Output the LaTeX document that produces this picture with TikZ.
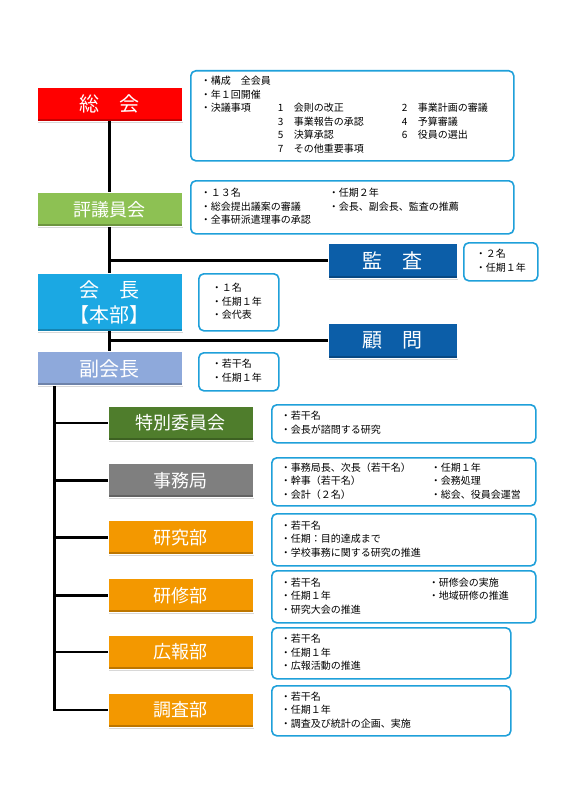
\documentclass[tikz,border=0pt]{standalone}
\usepackage{fontspec}
\setmainfont{Noto Sans CJK JP}
\usetikzlibrary{shadows}

\definecolor{infoblue}{HTML}{1FA0DA}
\definecolor{sokaired}{HTML}{FF0000}
\definecolor{hyogigreen}{HTML}{8DC153}
\definecolor{kaichoblue}{HTML}{1BA8E3}
\definecolor{fukublue}{HTML}{8EA9DB}
\definecolor{navyblue}{HTML}{0C5EA8}
\definecolor{tokugreen}{HTML}{4F7D2C}
\definecolor{jimugray}{HTML}{7F7F7F}
\definecolor{buorange}{HTML}{F39800}

\newcommand{\infofont}{\fontsize{10}{13.5}\selectfont}

\begin{document}
\begin{tikzpicture}[
		x=1pt, y=-1pt,
		conn/.style={line width=2.5pt},
		unit/.style={
			draw=white,
			line width=0.8pt,
			minimum width=145pt,
			minimum height=34pt,
			inner sep=0pt,
			align=center,
			text=white,
			drop shadow={shadow xshift=1pt, shadow yshift=-1.5pt, opacity=0.3},
			path picture={\fill[black, opacity=0.22] (path picture bounding box.south west) rectangle ([yshift=2.5pt]path picture bounding box.south east);}
		},
		big/.style={font=\fontsize{20}{25}\selectfont},
		mid/.style={font=\fontsize{18}{22}\selectfont},
		side/.style={minimum width=129pt, minimum height=35pt, fill=navyblue},
		info/.style={
			draw=infoblue,
			line width=1.6pt,
			rounded corners=5pt,
			fill=white,
			anchor=north west,
			inner xsep=10pt,
			inner ysep=0pt,
			align=left,
			font=\infofont
		}
		]
		
		\path[fill=white] (0,0) rectangle (566,800);
		\useasboundingbox (0,0) rectangle (566,800);
		
		% Main line
		\node[unit, big, fill=sokaired] (sokai) at (109.5,104) {総　会};
		\node[unit, mid, fill=hyogigreen] (hyogi) at (109.5,209.5) {評議員会};
		\node[unit, big, fill=kaichoblue, minimum height=58pt] (kaicho) at (109.5,302) {会　長\\【本部】};
		\node[unit, big, fill=fukublue] (fuku) at (109.5,368.5) {副会長};
		
		% Side posts
		\node[unit, big, side] (kansa) at (392.5,260.5) {監　査};
		\node[unit, big, side] (komon) at (392.5,340.5) {顧　問};
		
		% Departments
		\node[unit, mid, fill=tokugreen] (tokubetsu) at (180.5,423) {特別委員会};
		\node[unit, mid, fill=jimugray] (jimu) at (180.5,480.5) {事務局};
		\node[unit, mid, fill=buorange] (kenkyu) at (180.5,537.5) {研究部};
		\node[unit, mid, fill=buorange] (kenshu) at (180.5,595.5) {研修部};
		\node[unit, mid, fill=buorange] (koho) at (180.5,652) {広報部};
		\node[unit, mid, fill=buorange] (chosa) at (180.5,710) {調査部};
		
		% Notes
		\node[info, text width=303pt, minimum height=90pt] (sokaiinfo) at (190,70) {%
			\begin{tabular}{@{}p{77pt}@{}p{16pt}@{}p{108pt}@{}p{16pt}@{}l@{}}
				\multicolumn{5}{@{}l@{}}{・構成　全会員}\\
				\multicolumn{5}{@{}l@{}}{・年１回開催}\\
				・決議事項 & 1 & 会則の改正 & 2 & 事業計画の審議\\
				& 3 & 事業報告の承認 & 4 & 予算審議\\
				& 5 & 決算承認 & 6 & 役員の選出\\
				& 7 & その他重要事項 & & \\
			\end{tabular}};
		\node[info, text width=303pt, minimum height=53pt] (hyogiinfo) at (190,180) {%
			\begin{tabular}{@{}p{128pt}@{}l@{}}
				・１３名 & ・任期２年\\
				・総会提出議案の審議 & ・会長、副会長、監査の推薦\\
				・全事研派遣理事の承認 & \\
			\end{tabular}};
		\node[info, inner xsep=12pt, text width=50pt, minimum height=38pt] (kansainfo) at (463,242) {%
			\begin{tabular}{@{}l@{}}・２名\\・任期１年\end{tabular}};
		\node[info, inner xsep=13pt, text width=54pt, minimum height=57pt] (kaichoinfo) at (198,273) {%
			\begin{tabular}{@{}l@{}}・１名\\・任期１年\\・会代表\end{tabular}};
		\node[info, inner xsep=13pt, text width=54pt, minimum height=38pt] (fukuinfo) at (198,352) {%
			\begin{tabular}{@{}l@{}}・若干名\\・任期１年\end{tabular}};
		\node[info, inner xsep=9pt, text width=246pt, minimum height=38pt] (tokubetsuinfo) at (271,404) {%
			\begin{tabular}{@{}l@{}}・若干名\\・会長が諮問する研究\end{tabular}};
		\node[info, inner xsep=9pt, text width=246pt, minimum height=48pt] (jimuinfo) at (271,457) {%
			\begin{tabular}{@{}p{150pt}@{}l@{}}
				・事務局長、次長（若干名） & ・任期１年\\
				・幹事（若干名） & ・会務処理\\
				・会計（２名） & ・総会、役員会運営\\
			\end{tabular}};
		\node[info, inner xsep=9pt, text width=246pt, minimum height=52pt] (kenkyuinfo) at (271,513) {%
			\begin{tabular}{@{}l@{}}・若干名\\・任期：目的達成まで\\・学校事務に関する研究の推進\end{tabular}};
		\node[info, inner xsep=9pt, text width=246pt, minimum height=52pt] (kenshuinfo) at (271,570) {%
			\begin{tabular}{@{}p{148pt}@{}l@{}}
				・若干名 & ・研修会の実施\\
				・任期１年 & ・地域研修の推進\\
				・研究大会の推進 & \\
			\end{tabular}};
		\node[info, inner xsep=9pt, text width=221pt, minimum height=51pt] (kohoinfo) at (271,627) {%
			\begin{tabular}{@{}l@{}}・若干名\\・任期１年\\・広報活動の推進\end{tabular}};
		\node[info, inner xsep=9pt, text width=221pt, minimum height=50pt] (chosainfo) at (271,685) {%
			\begin{tabular}{@{}l@{}}・若干名\\・任期１年\\・調査及び統計の企画、実施\end{tabular}};
		
		% Connectors
		\draw[conn] (sokai) -- (hyogi);
		\draw[conn] (hyogi) -- (kaicho);
		\draw[conn] (kaicho) -- (fuku);
		\draw[conn] (hyogi.south |- kansa) -- (kansa.west);
		\draw[conn] (kaicho.south |- komon) -- (komon.west);
		
		\coordinate (trunk) at ([xshift=18pt]fuku.south west);
		\draw[conn] (trunk) |- (chosa.west);
		\foreach \dept in {tokubetsu, jimu, kenkyu, kenshu, koho}
		\draw[conn] (trunk |- \dept) -- (\dept.west);
		
	\end{tikzpicture}
\end{document}
